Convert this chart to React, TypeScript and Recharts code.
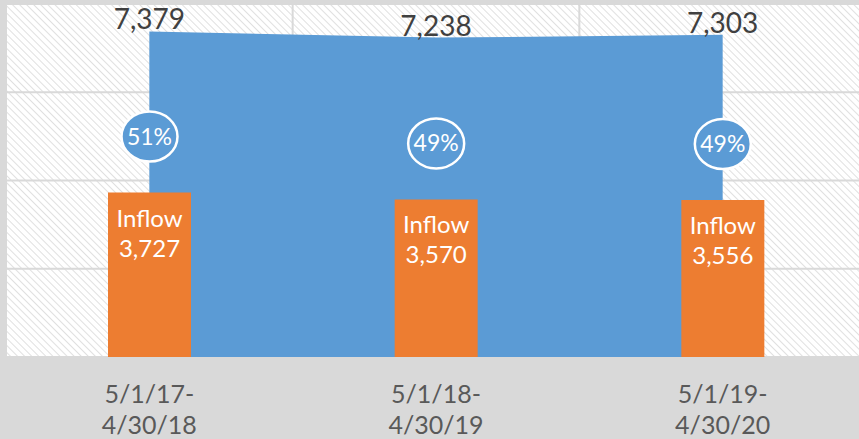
import React from "react"
import { ComposedChart, Area, Bar, XAxis, YAxis, CartesianGrid, LabelList } from "recharts"

const categories = ["5/1/17-4/30/18", "5/1/18-4/30/19", "5/1/19-4/30/20"]
const totals = [7379, 7238, 7303]
const inflows = [3727, 3570, 3556]
const shares = ["51%", "49%", "49%"]
const yTicks = [0, 2000, 4000, 6000, 8000]

const data = categories.map((period, i) => ({
  period,
  total: totals[i],
  inflow: inflows[i],
  share: shares[i],
}))

const FONT = "Lato, 'Liberation Sans', sans-serif"
const fmt = (v: number) => v.toLocaleString("en-US")

function PeriodTick(props: any) {
  const { x, y, payload } = props
  const [a, b] = String(payload.value).split("-")
  return (
    <text x={x} y={y} textAnchor="middle" fill="#595959" fontSize={25} fontFamily={FONT}>
      <tspan x={x} dy={38}>{a}-</tspan>
      <tspan x={x} dy={31}>{b}</tspan>
    </text>
  )
}

function InflowLabel(props: any) {
  const { x, y, width, value } = props
  const cx = x + width / 2
  return (
    <g>
      <text x={cx} y={y + 34} textAnchor="middle" fill="#fff" fontSize={24} fontFamily={FONT}>
        Inflow
      </text>
      <text x={cx} y={y + 64} textAnchor="middle" fill="#fff" fontSize={24} fontFamily={FONT}>
        {fmt(value)}
      </text>
    </g>
  )
}

function ShareLabel(props: any) {
  const { x, y, width, index } = props
  const cx = x + width / 2
  const cy = y - 56
  return (
    <g>
      <ellipse cx={cx} cy={cy} rx={28} ry={25} fill="#5b9bd5" stroke="#fff" strokeWidth={2.5} />
      <text x={cx} y={cy + 8} textAnchor="middle" fill="#fff" fontSize={23} fontFamily={FONT}>
        {shares[index]}
      </text>
    </g>
  )
}

export default function App() {
  return (
    <div
      style={{
        position: "absolute",
        left: 0,
        top: 0,
        width: 859,
        height: 439,
        overflow: "hidden",
        background: "#d9d9d9",
      }}
    >
      <ComposedChart width={866} height={439} data={data} margin={{ top: 4, right: 0, bottom: 0, left: 6 }}>
        <defs>
          <pattern id="hatch" width="5" height="5" patternUnits="userSpaceOnUse" patternTransform="rotate(-45)">
            <rect width="5" height="5" fill="#fff" />
            <line x1="0" y1="0" x2="0" y2="5" stroke="#d9d9d9" strokeWidth={1.6} />
          </pattern>
        </defs>
        <CartesianGrid
          fill="url(#hatch)"
          stroke="#d9d9d9"
          strokeWidth={2}
          verticalCoordinatesGenerator={({ offset }: any) =>
            [0, 1, 2, 3].map((i) => offset.left + (offset.width * i) / 3)
          }
        />
        <XAxis
          dataKey="period"
          axisLine={false}
          tickLine={false}
          height={82}
          interval={0}
          tick={<PeriodTick />}
        />
        <YAxis hide domain={[0, 8000]} ticks={yTicks} />
        <Area
          type="linear"
          dataKey="total"
          fill="#5b9bd5"
          fillOpacity={1}
          stroke="none"
          dot={false}
          activeDot={false}
          isAnimationActive={false}
        >
          <LabelList
            dataKey="total"
            position="top"
            offset={2}
            formatter={(v: any) => fmt(v)}
            fill="#404040"
            fontSize={28}
            fontFamily={FONT}
          />
        </Area>
        <Bar dataKey="inflow" fill="#ed7d31" barSize={83} isAnimationActive={false}>
          <LabelList dataKey="inflow" content={<InflowLabel />} />
          <LabelList dataKey="share" content={<ShareLabel />} />
        </Bar>
      </ComposedChart>
    </div>
  )
}
